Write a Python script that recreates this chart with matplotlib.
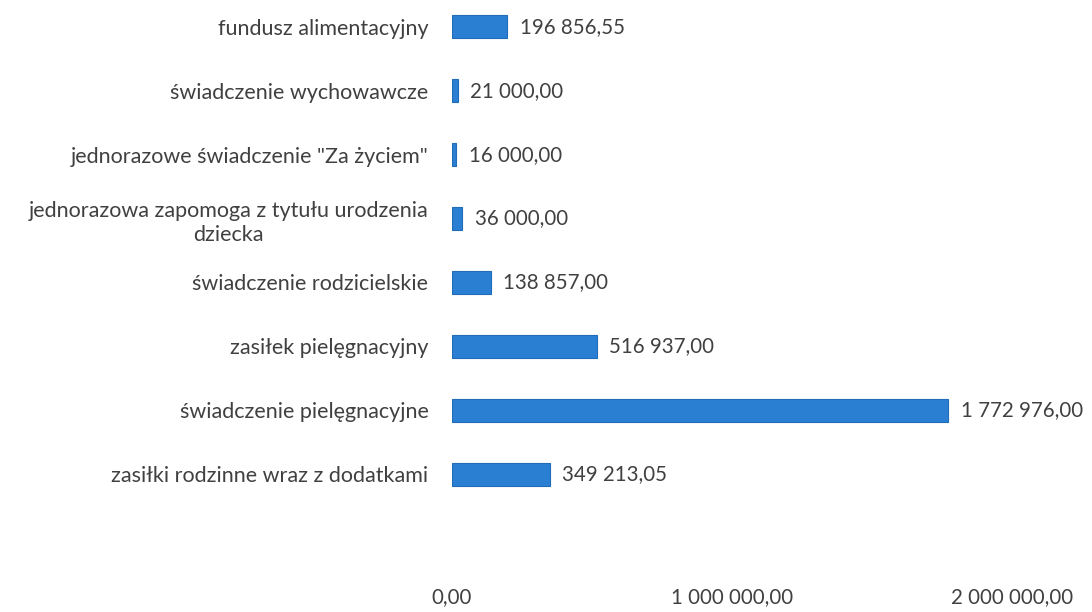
import numpy as np
import matplotlib
matplotlib.use('Agg')
import matplotlib.pyplot as plt

plt.rcParams['font.family'] = ['Lato', 'DejaVu Sans']

# categories listed bottom -> top
categories = [
    "zasiłki rodzinne wraz z dodatkami",
    "świadczenie pielęgnacyjne",
    "zasiłek pielęgnacyjny",
    "świadczenie rodzicielskie",
    "jednorazowa zapomoga z tytułu urodzenia\ndziecka",
    "jednorazowe świadczenie \"Za życiem\"",
    "świadczenie wychowawcze",
    "fundusz alimentacyjny",
]
values = [349213.05, 1772976.00, 516937.00, 138857.00, 36000.00, 16000.00, 21000.00, 196856.55]
x_ticks = [0, 1000000, 2000000]

bar_color = "#2B7FD3"
text_color = "#404040"


def fmt_pl(v):
    s = f"{v:,.2f}"
    return s.replace(",", " ").replace(".", ",")


fig = plt.figure(figsize=(10.92, 6.12), dpi=100)
ax = fig.add_axes([452 / 1092, 1 - 584 / 612, (1012 - 452) / 1092, 584 / 612])

y = np.arange(len(categories))
ax.barh(y, values, height=0.36, color=bar_color, edgecolor="#1F6DB8", linewidth=0.8)

for yi, v in zip(y, values):
    ax.annotate(fmt_pl(v), (v, yi), xytext=(9, 0), textcoords="offset points",
                va="center", ha="left", fontsize=14.8, color=text_color)

ax.set_xlim(0, 2000000)
ax.set_ylim(-1.72, 7.42)
ax.set_yticks(y)
ax.set_yticklabels(categories, fontsize=15.5, color=text_color,
                   multialignment="center", linespacing=1.3)
ax.set_xticks(x_ticks)
ax.set_xticklabels([fmt_pl(t) for t in x_ticks], fontsize=14.8, color=text_color)
ax.get_xticklabels()[-1].set_ha("center")
ax.tick_params(axis="y", length=0, pad=17)
ax.tick_params(axis="x", length=0, pad=2)
for sp in ax.spines.values():
    sp.set_visible(False)

fig.savefig("out.png", dpi=100)
